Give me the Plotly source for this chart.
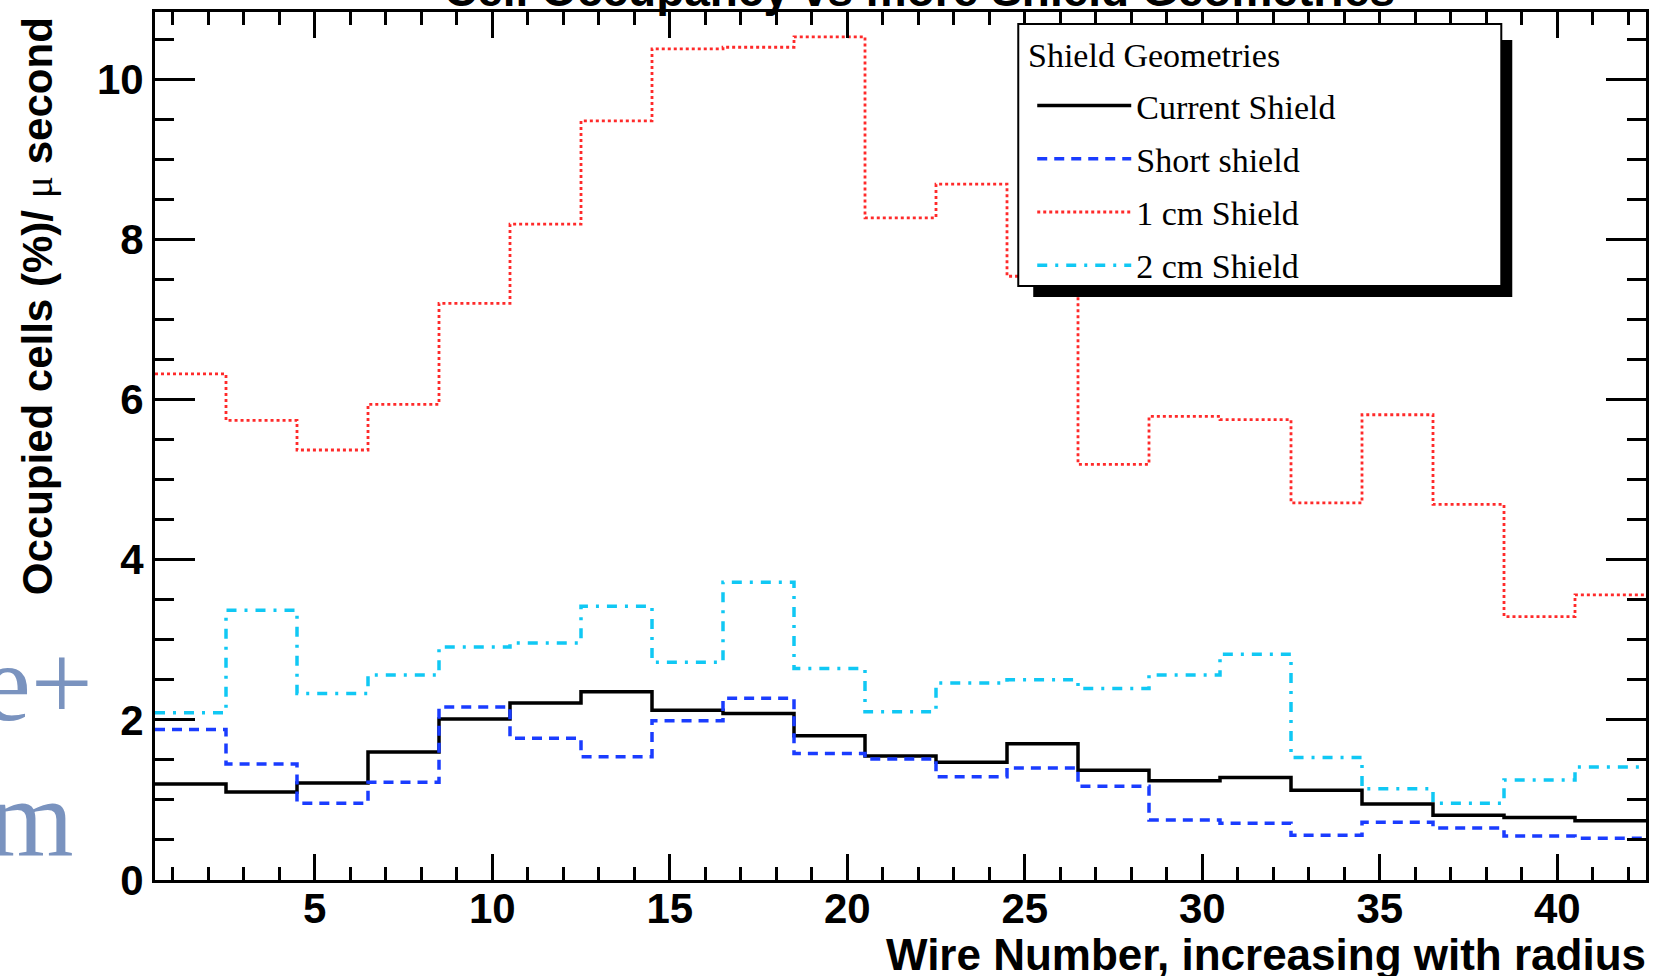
import plotly.graph_objects as go

# Wire bins (width 2) and occupancy per bin for each shield geometry
bin_edges = [0.5, 2.5, 4.5, 6.5, 8.5, 10.5, 12.5, 14.5, 16.5, 18.5, 20.5,
             22.5, 24.5, 26.5, 28.5, 30.5, 32.5, 34.5, 36.5, 38.5, 40.5, 42.5]

current_shield = [1.20, 1.10, 1.21, 1.60, 2.01, 2.21, 2.35, 2.12, 2.08, 1.80, 1.55,
                  1.47, 1.70, 1.37, 1.24, 1.28, 1.12, 0.95, 0.81, 0.78, 0.74]
short_shield = [1.88, 1.45, 0.96, 1.22, 2.16, 1.77, 1.54, 1.99, 2.27, 1.58, 1.51,
                1.29, 1.40, 1.17, 0.75, 0.71, 0.56, 0.72, 0.65, 0.55, 0.52]
one_cm_shield = [6.32, 5.74, 5.37, 5.94, 7.20, 8.19, 9.48, 10.38, 10.40, 10.53, 8.27,
                 8.69, 7.54, 5.19, 5.79, 5.75, 4.71, 5.81, 4.69, 3.29, 3.56]
two_cm_shield = [2.09, 3.37, 2.33, 2.56, 2.91, 2.96, 3.42, 2.72, 3.72, 2.64, 2.10,
                 2.46, 2.50, 2.39, 2.56, 2.82, 1.53, 1.14, 0.96, 1.25, 1.41]

series = [
    ("Current Shield", current_shield, "#000000", "solid", 3.5),
    ("Short shield", short_shield, "#1a3cff", "10px,7px", 3.5),
    ("1 cm Shield", one_cm_shield, "#ff2a2a", "3px,3px", 2.8),
    ("2 cm Shield", two_cm_shield, "#10c8f4", "10px,8px,3px,8px", 3.5),
]

# Page geometry (pixels) of the plotting frame
W, H = 1658, 976
L, R, T, B = 155, 1649, 12, 880


def px_x(p):
    return (p - L) / (R - L)


def px_y(p):
    return (B - p) / (B - T)


fig = go.Figure()
for i, (name, vals, color, dash, width) in enumerate(series):
    fig.add_trace(go.Scatter(
        x=bin_edges,
        y=vals + [vals[-1]],
        mode="lines",
        line=dict(shape="hv", color=color, dash=dash, width=width),
        name=name,
        legendgroup=f"g{i}",
    ))

axis_common = dict(
    showline=True, linecolor="black", linewidth=3,
    mirror="allticks", ticks="inside", tickcolor="black", tickwidth=2.5,
    showgrid=False, zeroline=False,
    tickfont=dict(family="Liberation Sans", size=42, weight="bold", color="black"),
)

fig.update_xaxes(
    range=[0.5, 42.5], tickmode="linear", tick0=0, dtick=5, ticklen=26,
    ticklabelstandoff=-10,
    minor=dict(tick0=0, dtick=1, ticks="inside", ticklen=13, tickwidth=2.5,
               tickcolor="black", showgrid=False),
    **axis_common,
)
fig.update_yaxes(
    range=[0, 10.84], tickmode="linear", tick0=0, dtick=2, ticklen=40,
    minor=dict(tick0=0, dtick=0.5, ticks="inside", ticklen=19, tickwidth=2.5,
               tickcolor="black", showgrid=False),
    **axis_common,
)

# Legend frame with drop shadow
fig.add_shape(type="rect", xref="paper", yref="paper", layer="above",
              x0=px_x(1035), x1=px_x(1515), y0=px_y(297), y1=px_y(40),
              fillcolor="black", line=dict(width=0))
fig.add_shape(type="rect", xref="paper", yref="paper", layer="above",
              x0=px_x(1020), x1=px_x(1504), y0=px_y(286), y1=px_y(24),
              fillcolor="white", line=dict(color="black", width=2))

serif = "Liberation Serif"
bold_sans = dict(family="Liberation Sans", weight="bold", color="black")

annotations = [
    # histogram title, running off the top edge
    dict(text="Cell Occupancy vs more Shield Geometries", x=px_x(921), y=px_y(17),
         xanchor="center", yanchor="bottom", font=dict(size=46, **bold_sans)),
    # legend header
    dict(text="Shield Geometries", x=px_x(1029), y=px_y(55),
         xanchor="left", yanchor="middle", font=dict(family=serif, size=34, color="black")),
    # axis titles
    dict(text="Occupied cells (%)/ <span style=\"font-family:'Liberation Serif';font-weight:normal\">μ</span> second",
         x=px_x(37), y=px_y(16), xanchor="center", yanchor="top", textangle=-90,
         font=dict(size=42, **bold_sans)),
    dict(text="Wire Number, increasing with radius", x=px_x(1650), y=px_y(954),
         xanchor="right", yanchor="middle", font=dict(size=44, **bold_sans)),
    # slide text behind the chart
    dict(text="e+", x=px_x(94), y=px_y(745), xanchor="right", yanchor="bottom",
         font=dict(family=serif, size=110, color="#7a93bf")),
    dict(text="m", x=px_x(75), y=px_y(880), xanchor="right", yanchor="bottom",
         font=dict(family=serif, size=110, color="#7a93bf")),
]
for a in annotations:
    a.update(xref="paper", yref="paper", showarrow=False, borderpad=0)

fig.update_layout(
    width=W, height=H,
    margin=dict(l=L, r=W - R, t=T, b=H - B),
    paper_bgcolor="white", plot_bgcolor="white",
    showlegend=True,
    legend=dict(
        x=px_x(1034), y=px_y(77), xanchor="left", yanchor="top",
        bgcolor="rgba(0,0,0,0)", borderwidth=0,
        font=dict(family=serif, size=34, color="black"),
        itemwidth=94, tracegroupgap=6, traceorder="grouped",
    ),
    annotations=annotations,
)

fig.write_html("out.html")
